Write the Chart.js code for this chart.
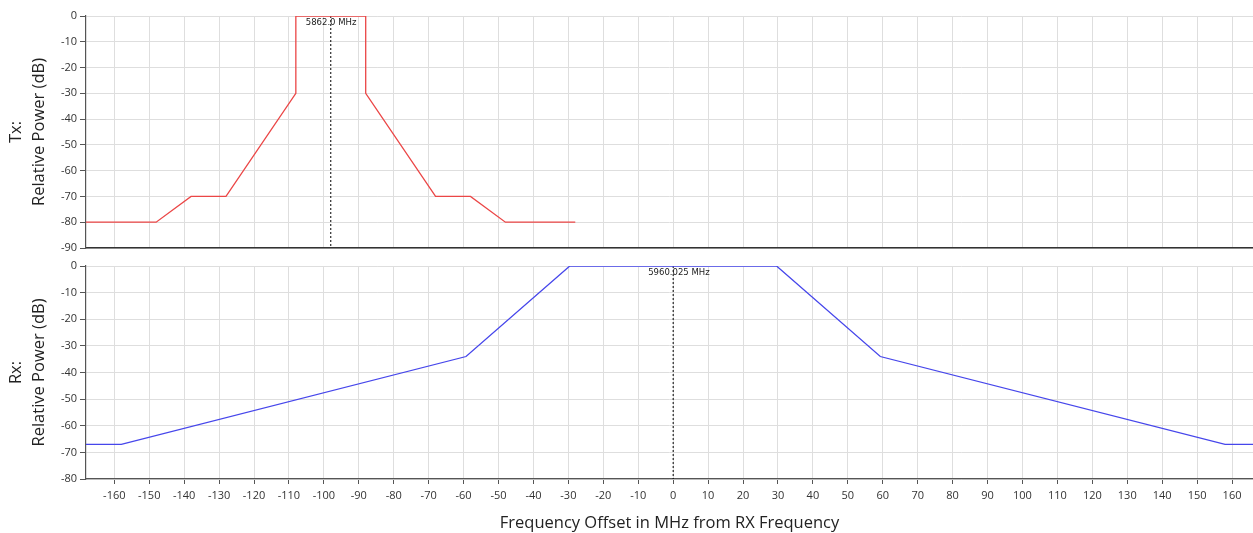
<!DOCTYPE html>
<html>
<head>
<meta charset="utf-8">
<script src="https://cdn.jsdelivr.net/npm/chart.js@4.4.1/dist/chart.umd.min.js"></script>
<style>
  body { margin: 0; background: #fff; }
  .panel { position: absolute; left: 0; }
</style>
</head>
<body>
<div class="panel" style="top:0"><canvas id="tx" width="1253" height="260"></canvas></div>
<div class="panel" style="top:250px"><canvas id="rx" width="1253" height="283"></canvas></div>
<script>
// carrier frequencies (MHz)
const txCarrier = 5862.0;
const rxCarrier = 5960.025;

// Tx spectral mask, offset from RX frequency
const txFreq = [-170, -148.025, -138.025, -128.025, -108.025, -108.025, -88.025, -88.025, -68.025, -58.025, -48.025, -28.025];
const txPower = [-80, -80, -70, -70, -30, 0, 0, -30, -70, -70, -80, -80];

// Rx filter mask
const rxFreq = [-170, -158, -59.3, -29.6, 29.6, 59.3, 158, 170];
const rxPower = [-67, -67, -34, 0, 0, -34, -67, -67];

// frequency axis ticks
const xTicks = [-160, -150, -140, -130, -120, -110, -100, -90, -80, -70, -60, -50, -40, -30, -20, -10,
    0, 10, 20, 30, 40, 50, 60, 70, 80, 90, 100, 110, 120, 130, 140, 150, 160];

const xMin = -168.1;
const xMax = 166;
const txRange = [-90, 0];
const rxRange = [-80, 0];

const FONT = "'Open Sans', sans-serif";
const GRID = '#dedede';
const AXIS = '#555';

function pts(xs, ys) {
    return xs.map((x, i) => ({ x: x, y: ys[i] }));
}

// labels next to the carrier marker
const markerLabel = {
    id: 'markerLabel',
    afterDatasetsDraw(chart, args, opts) {
        const ctx = chart.ctx;
        const x = chart.scales.x.getPixelForValue(opts.freq);
        ctx.save();
        ctx.font = "8.5px 'DejaVu Sans', sans-serif";
        ctx.fillStyle = '#222';
        ctx.textAlign = 'left';
        ctx.textBaseline = 'middle';
        ctx.fillText(opts.text, x - 25, chart.chartArea.top + 7);
        ctx.restore();
    }
};

function makeChart(id, freq, power, color, range, markerFreq, markerText, title, showX) {
    const ctx = document.getElementById(id).getContext('2d');
    return new Chart(ctx, {
        type: 'line',
        data: {
            datasets: [{
                data: pts(freq, power),
                borderColor: color,
                borderWidth: 1.3,
                pointRadius: 0,
                tension: 0
            }, {
                data: pts([markerFreq, markerFreq], [range[1], range[0]]),
                borderColor: '#000',
                borderWidth: 1,
                borderDash: [2, 2],
                pointRadius: 0
            }]
        },
        options: {
            responsive: false,
            animation: false,
            events: [],
            layout: { padding: { top: 16, left: 0, right: 0, bottom: 0 } },
            plugins: {
                legend: { display: false },
                tooltip: { enabled: false },
                markerLabel: { freq: markerFreq, text: markerText }
            },
            scales: {
                x: {
                    type: 'linear',
                    min: xMin,
                    max: xMax,
                    afterBuildTicks: s => { s.ticks = xTicks.map(v => ({ value: v })); },
                    afterFit: s => { s.height = showX ? 54 : 12; },
                    border: { display: true, color: showX ? AXIS : '#333', width: showX ? 1.2 : 1.5 },
                    grid: { color: GRID, tickColor: AXIS, drawTicks: showX, tickLength: 5 },
                    ticks: { display: showX, autoSkip: false, maxRotation: 0, color: '#333', padding: 5, font: { family: FONT, size: 11 } },
                    title: {
                        display: showX,
                        text: 'Frequency Offset in MHz from RX Frequency',
                        color: '#222',
                        padding: { top: 0, bottom: 0 },
                        font: { family: FONT, size: 16.5 }
                    }
                },
                y: {
                    min: range[0],
                    max: range[1],
                    afterFit: s => { s.width = 86; },
                    border: { display: true, color: AXIS, width: 1.2 },
                    grid: { color: GRID, tickColor: AXIS, tickLength: 6 },
                    ticks: { stepSize: 10, color: '#333', padding: 3, font: { family: FONT, size: 11 } },
                    title: {
                        display: true,
                        text: title,
                        color: '#222',
                        padding: { top: 5, bottom: 0 },
                        font: { family: FONT, size: 16.5, lineHeight: 1.4 }
                    }
                }
            }
        },
        plugins: [markerLabel]
    });
}

makeChart('tx', txFreq, txPower, 'rgb(235,70,70)', txRange,
    txCarrier - rxCarrier, txCarrier.toFixed(1) + ' MHz', ['Tx:', 'Relative Power (dB)'], false);
makeChart('rx', rxFreq, rxPower, 'rgb(70,70,235)', rxRange,
    0, rxCarrier.toFixed(3) + ' MHz', ['Rx:', 'Relative Power (dB)'], true);
</script>
</body>
</html>
